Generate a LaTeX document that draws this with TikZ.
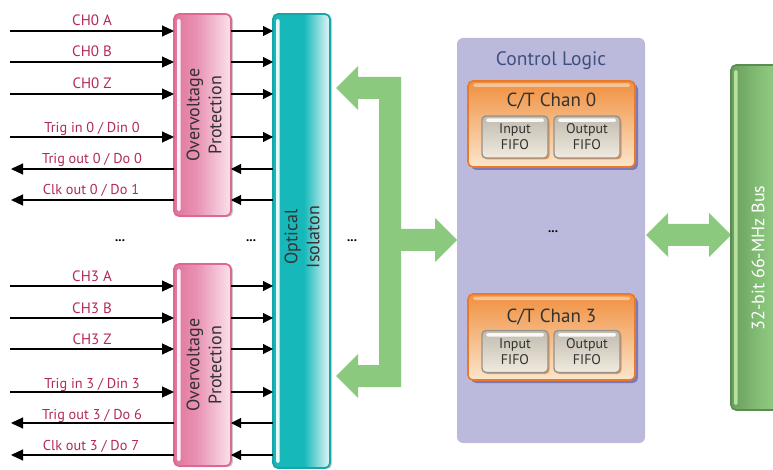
\documentclass[tikz,border=0pt]{standalone}
\usepackage{fontspec}
\setmainfont{PT Sans}
\usetikzlibrary{arrows.meta,shadows,calc}
\definecolor{lbl}{RGB}{178,40,90}
\definecolor{ovA}{RGB}{224,116,156}
\definecolor{ovB}{RGB}{234,146,180}
\definecolor{ovC}{RGB}{250,226,236}
\definecolor{ovD}{RGB}{222,104,146}
\definecolor{oiA}{RGB}{22,184,186}
\definecolor{oiC}{RGB}{228,246,246}
\definecolor{oiD}{RGB}{22,166,170}
\definecolor{grn}{RGB}{139,201,126}
\definecolor{busA}{RGB}{104,160,92}
\definecolor{busB}{RGB}{141,199,127}
\definecolor{busD}{RGB}{92,140,82}
\definecolor{busH}{RGB}{182,224,160}
\definecolor{lav}{RGB}{188,186,220}
\definecolor{ctA}{RGB}{240,144,64}
\definecolor{ctB}{RGB}{251,230,204}
\definecolor{ctD}{RGB}{232,122,42}
\definecolor{shd}{RGB}{118,114,176}
\definecolor{fA}{RGB}{192,187,174}
\definecolor{fB}{RGB}{240,235,222}
\definecolor{fD}{RGB}{150,146,138}
\definecolor{cltxt}{RGB}{62,80,128}
\definecolor{boxtxt}{RGB}{50,50,50}
\pgfdeclarehorizontalshading{ovsh}{100bp}{color(0bp)=(ovA); color(25bp)=(ovA); color(45bp)=(ovB); color(75bp)=(ovC); color(100bp)=(ovC)}
\pgfdeclarehorizontalshading{oish}{100bp}{color(0bp)=(oiA); color(25bp)=(oiA); color(52bp)=(oiA); color(75bp)=(oiC); color(100bp)=(oiC)}
\pgfdeclarehorizontalshading{bussh}{100bp}{color(0bp)=(busA); color(25bp)=(busA); color(60bp)=(busB); color(100bp)=(busB)}
\tikzset{
  sig/.style={line width=1.1pt, draw=black},
  bigarr/.style={sig, -{Triangle[length=12pt,width=11pt]}},
  smallarr/.style={sig, -{Triangle[length=10pt,width=10pt]}},
  lab/.style={text=lbl, font=\fontsize{14.3}{16}\selectfont, anchor=base},
  chlab/.style={lab, font=\fontsize{15}{17}\selectfont},
  ovbox/.style={shading=ovsh, draw=ovD, line width=1.8pt, rounded corners=5pt,
     minimum width=57pt, minimum height=202pt,
     drop shadow={shadow xshift=2pt, shadow yshift=-1pt, fill=black, opacity=0.2}},
  vtext/.style={rotate=90, align=center, text=boxtxt, font=\fontsize{18}{22}\selectfont},
  dotsl/.style={font=\bfseries\fontsize{13}{14}\selectfont},
  ctbox/.style={top color=ctA, bottom color=ctB, draw=ctD, line width=1.6pt, rounded corners=5pt,
     minimum width=167pt, minimum height=86pt,
     drop shadow={shadow xshift=3pt, shadow yshift=-3pt, fill=shd, opacity=0.9}},
  fifo/.style={top color=fA, bottom color=fB, draw=fD, line width=1.4pt, rounded corners=4pt,
     minimum width=66pt, minimum height=42pt, align=center, text=boxtxt,
     font=\fontsize{14}{16}\selectfont,
     drop shadow={shadow xshift=1.5pt, shadow yshift=-1.5pt, fill=ctD, opacity=0.7}},
  cttitle/.style={anchor=base, text=boxtxt, font=\fontsize{19}{22}\selectfont},
}
\begin{document}
\begin{tikzpicture}[x=1pt,y=-1pt, every node/.style={inner sep=0pt, outer sep=0pt}]
\useasboundingbox (0,0) rectangle (773,470);

% ---------- control logic background ----------
\node[fill=lav, rounded corners=6pt, minimum width=188pt, minimum height=405pt] (cl) at (551,240.5) {};
\node[anchor=base, text=cltxt, font=\fontsize{19.5}{22}\selectfont] (cltitle) at (551,66) {Control Logic};

% ---------- green arrows ----------
\fill[grn] (401,77) -- (358,77) -- (358,66) -- (336,88) -- (358,110) -- (358,99) -- (379,99)
  -- (379,365) -- (358,365) -- (358,354) -- (336,376) -- (358,398) -- (358,387) -- (401,387)
  -- (401,251) -- (435,251) -- (435,262) -- (457,240) -- (435,218) -- (435,229) -- (401,229) -- cycle;
\fill[grn] (646,235) -- (668,213) -- (668,224) -- (709,224) -- (709,213) -- (731,235)
  -- (709,257) -- (709,246) -- (668,246) -- (668,257) -- cycle;

% ---------- overvoltage boxes ----------
\node[ovbox] (ov1) at (202.5,115) {};
\fill[white, opacity=0.9, rounded corners=1.5pt] ($(ov1.north west)+(3,5)$) rectangle ($(ov1.south west)+(6.5,-5)$);
\node[vtext] (ov1t) at (204,115) {Overvoltage\\Protection};
\node[ovbox] (ov2) at (202.5,365) {};
\fill[white, opacity=0.9, rounded corners=1.5pt] ($(ov2.north west)+(3,5)$) rectangle ($(ov2.south west)+(6.5,-5)$);
\node[vtext] (ov2t) at (204,365) {Overvoltage\\Protection};

% ---------- optical isolator ----------
\node[shading=oish, draw=oiD, line width=1.8pt, rounded corners=5pt, minimum width=57pt, minimum height=454pt,
  drop shadow={shadow xshift=2pt, shadow yshift=-1pt, fill=black, opacity=0.2}] (oi) at (301.5,241) {};
\fill[white, opacity=0.9, rounded corners=1.5pt] ($(oi.north west)+(3,5)$) rectangle ($(oi.south west)+(6.5,-5)$);
\node[vtext, text=black!80] (oit) at (302,237) {Optical\\Isolaton};

% ---------- bus ----------
\begin{scope}
\clip (0,0) rectangle (773,470);
\node[shading=bussh, draw=busD, line width=1.6pt, rounded corners=5pt, minimum width=54pt, minimum height=345pt] (bus) at (758,237.5) {};
\fill[busH, rounded corners=1.5pt] ($(bus.north west)+(3,5)$) rectangle ($(bus.south west)+(6.5,-5)$);
\end{scope}
\node[rotate=90, text=white, font=\fontsize{18}{21}\selectfont] (bust) at (758,258) {32-bit 66-MHz Bus};

% ---------- C/T channels ----------
\node[ctbox] (ct0) at (551.5,124) {};
\fill[white, opacity=0.45, rounded corners=1.5pt] ($(ct0.north west)+(5,2.5)$) rectangle ($(ct0.north east)+(-5,6)$);
\node[cttitle] (ct0t) at (551.5,107) {C/T Chan 0};
\node[fifo] (fi0) at (515,137) {Input\\FIFO};
\node[fifo] (fo0) at (587,137) {Output\\FIFO};
\fill[white, opacity=0.9, rounded corners=1.5pt] ($(fi0.north west)+(4,2.5)$) rectangle ($(fi0.north east)+(-4,6)$);
\fill[white, opacity=0.9, rounded corners=1.5pt] ($(fo0.north west)+(4,2.5)$) rectangle ($(fo0.north east)+(-4,6)$);

\node[ctbox] (ct3) at (551.5,337) {};
\fill[white, opacity=0.45, rounded corners=1.5pt] ($(ct3.north west)+(5,2.5)$) rectangle ($(ct3.north east)+(-5,6)$);
\node[cttitle] (ct3t) at (551.5,322) {C/T Chan 3};
\node[fifo] (fi3) at (515,351.5) {Input\\FIFO};
\node[fifo] (fo3) at (587,351.5) {Output\\FIFO};
\fill[white, opacity=0.9, rounded corners=1.5pt] ($(fi3.north west)+(4,2.5)$) rectangle ($(fi3.north east)+(-4,6)$);
\fill[white, opacity=0.9, rounded corners=1.5pt] ($(fo3.north west)+(4,2.5)$) rectangle ($(fo3.north east)+(-4,6)$);

\node[dotsl] (d4) at (553,232) {...};

% ---------- signal lines, channel 0 ----------
\coordinate (a0) at (10,31);
\coordinate (b0) at (10,62);
\coordinate (z0) at (10,94);
\coordinate (ti0) at (10,137);
\coordinate (to0) at (11,169);
\coordinate (co0) at (11,200);
\foreach \c in {a0,b0,z0,ti0}{
  \draw[bigarr] (\c) -- (\c -| ov1.west);
  \draw[smallarr] (\c -| ov1.east) -- (\c -| oi.west);
}
\foreach \c in {to0,co0}{
  \draw[bigarr] (\c -| ov1.west) -- (\c);
  \draw[smallarr] (\c -| oi.west) -- (\c -| ov1.east);
}
\node[chlab] (la0) at (92,26) {CH0 A};
\node[chlab] (lb0) at (92,57) {CH0 B};
\node[chlab] (lz0) at (92,89) {CH0 Z};
\node[lab] (lti0) at (92,133) {Trig in 0 / Din 0};
\node[lab] (lto0) at (92,164) {Trig out 0 / Do 0};
\node[lab] (lco0) at (91,195) {Clk out 0 / Do 1};

% ---------- signal lines, channel 3 ----------
\coordinate (a3) at (10,286);
\coordinate (b3) at (10,318);
\coordinate (z3) at (10,349);
\coordinate (ti3) at (10,392);
\coordinate (to3) at (11,423);
\coordinate (co3) at (11,455);
\foreach \c in {a3,b3,z3,ti3}{
  \draw[bigarr] (\c) -- (\c -| ov2.west);
  \draw[smallarr] (\c -| ov2.east) -- (\c -| oi.west);
}
\foreach \c in {to3,co3}{
  \draw[bigarr] (\c -| ov2.west) -- (\c);
  \draw[smallarr] (\c -| oi.west) -- (\c -| ov2.east);
}
\node[chlab] (la3) at (92,281) {CH3 A};
\node[chlab] (lb3) at (92,313) {CH3 B};
\node[chlab] (lz3) at (92,344) {CH3 Z};
\node[lab] (lti3) at (92,388) {Trig in 3 / Din 3};
\node[lab] (lto3) at (92,419) {Trig out 3 / Do 6};
\node[lab] (lco3) at (91,450) {Clk out 3 / Do 7};

\node[dotsl] (d1) at (120,241) {...};
\node[dotsl] (d2) at (251,241) {...};
\node[dotsl] (d3) at (352,241) {...};
\end{tikzpicture}
\end{document}
